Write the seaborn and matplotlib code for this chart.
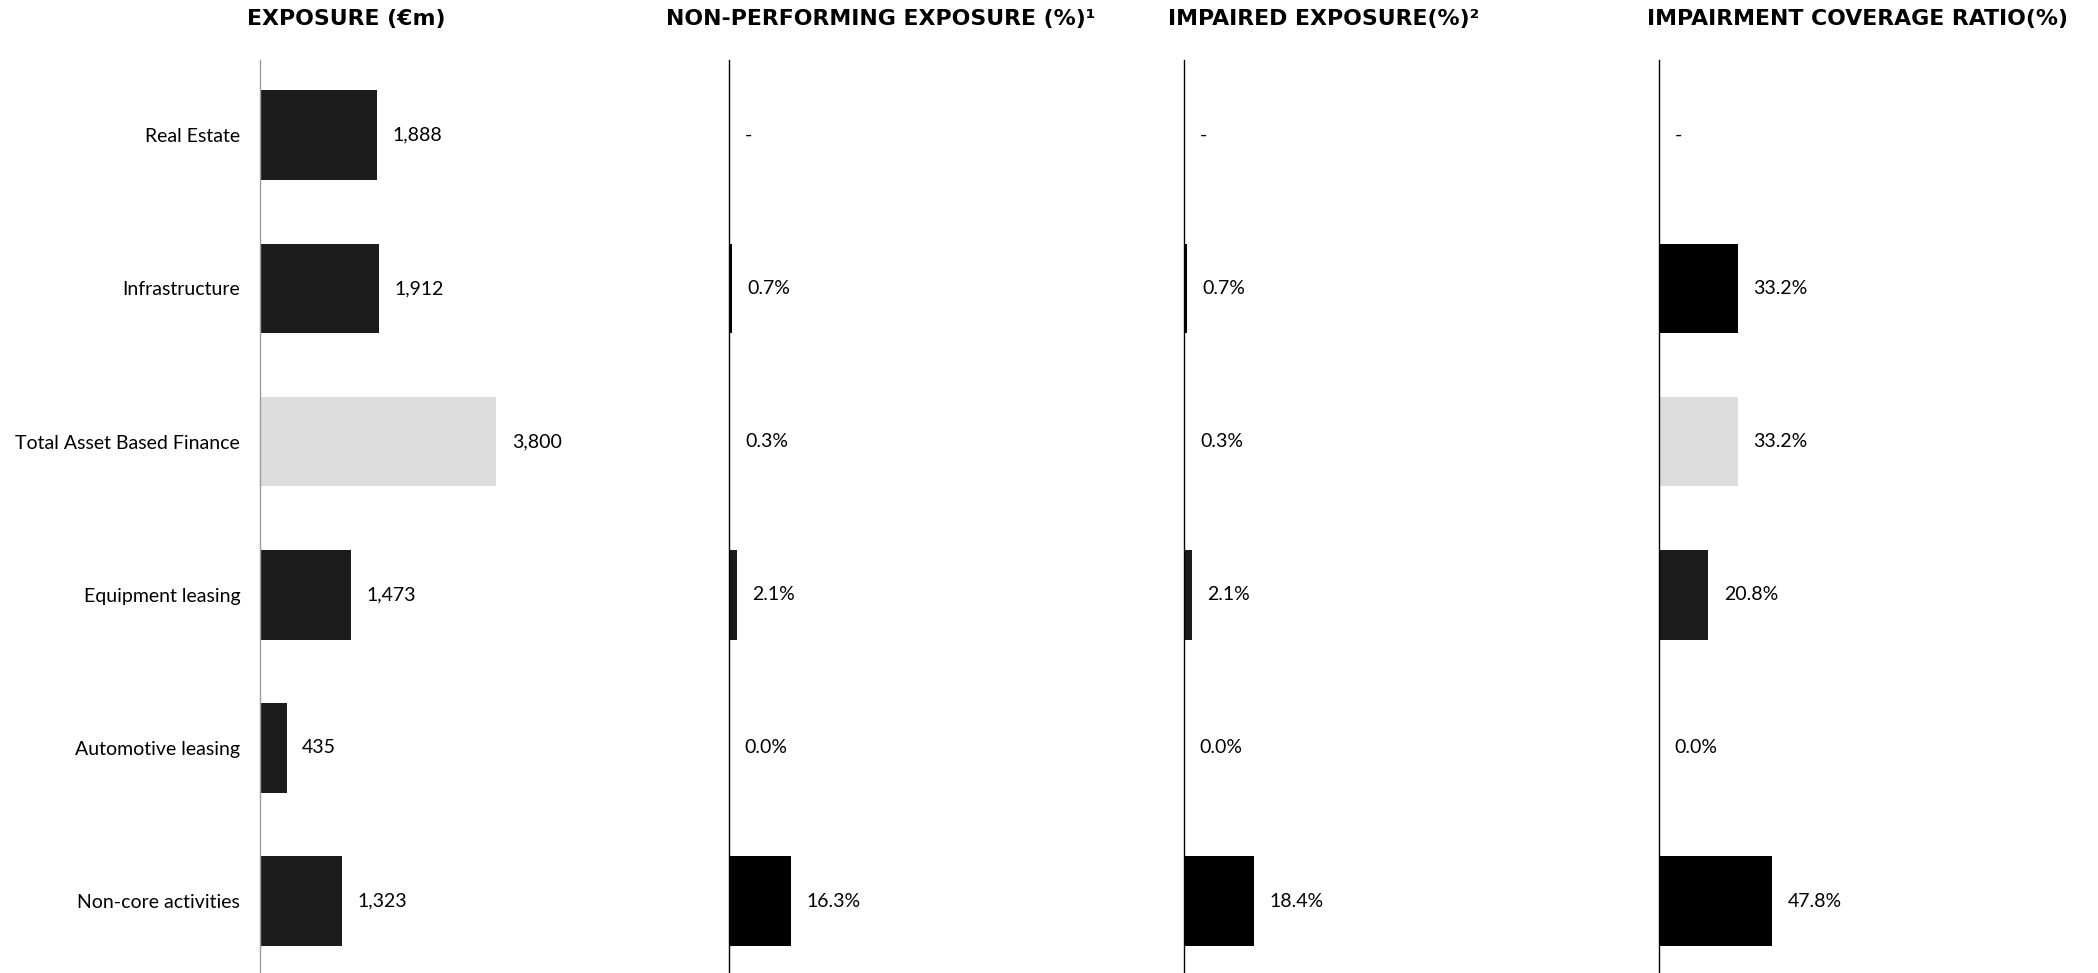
import numpy as np
import pandas as pd
import matplotlib
matplotlib.use("Agg")
import matplotlib.pyplot as plt
import seaborn as sns

categories = ["Real Estate", "Infrastructure", "Total Asset Based Finance",
              "Equipment leasing", "Automotive leasing", "Non-core activities"]
exposure = [1888, 1912, 3800, 1473, 435, 1323]
npe_pct = [np.nan, 0.7, 0.3, 2.1, 0.0, 16.3]
impaired_pct = [np.nan, 0.7, 0.3, 2.1, 0.0, 18.4]
coverage_pct = [np.nan, 33.2, 33.2, 20.8, 0.0, 47.8]
titles = ["EXPOSURE (€m)", "NON-PERFORMING EXPOSURE (%)¹",
          "IMPAIRED EXPOSURE(%)²", "IMPAIRMENT COVERAGE RATIO(%)"]

sns.set_theme(style="white")
plt.rcParams['font.family'] = ['Lato', 'DejaVu Sans']

DARK = "#1c1c1c"
BLACK = "#000000"
LIGHT = "#dcdcdc"
pal_exp = [DARK, DARK, LIGHT, DARK, DARK, DARK]
pal_pct = [BLACK, BLACK, LIGHT, DARK, DARK, BLACK]

fig = plt.figure(figsize=(20.98, 9.73), dpi=100)

W = 1568.0
H = 727.0
panels = [
    dict(vals=exposure, left=194, xmax=300 / 0.04658, pal=pal_exp, fmt=lambda v: f"{v:,.0f}",
         spine="#9a9a9a", tx=259),
    dict(vals=npe_pct, left=545, xmax=300 / 2.85, pal=pal_pct, fmt=lambda v: f"{v:.1f}%",
         spine="#000000", tx=658),
    dict(vals=impaired_pct, left=885, xmax=300 / 2.85, pal=pal_pct, fmt=lambda v: f"{v:.1f}%",
         spine="#000000", tx=989),
    dict(vals=coverage_pct, left=1240, xmax=300 / 1.77, pal=pal_pct, fmt=lambda v: f"{v:.1f}%",
         spine="#000000", tx=1388),
]

top_frac = 1 - 45 / H
for k, p in enumerate(panels):
    ax = fig.add_axes([p["left"] / W, 0.0, 300 / W, top_frac])
    df = pd.DataFrame({"cat": categories, "val": [0 if np.isnan(v) else v for v in p["vals"]]})
    palette = dict(zip(categories, p["pal"]))
    sns.barplot(data=df, x="val", y="cat", hue="cat", palette=palette, order=categories,
                hue_order=categories, legend=False, orient="h", width=0.585,
                saturation=1, linewidth=0, ax=ax)
    ax.set_xlim(0, p["xmax"])
    ax.set_ylim(5.47, -0.49)
    ax.set_xlabel("")
    ax.set_ylabel("")
    ax.set_xticks([])
    for s in ["top", "right", "bottom"]:
        ax.spines[s].set_visible(False)
    ax.spines["left"].set_color(p["spine"])
    ax.spines["left"].set_linewidth(1.0)
    ax.tick_params(axis="y", length=0, pad=14)
    if k == 0:
        ax.set_yticks(range(len(categories)))
        ax.set_yticklabels(categories, fontsize=14, color="#000000")
    else:
        ax.set_yticks([])
    for i, v in enumerate(p["vals"]):
        if np.isnan(v):
            txt, xv = "-", 0
        else:
            txt, xv = p["fmt"](v), v
        ax.annotate(txt, xy=(xv, i), xytext=(11, 0), textcoords="offset points",
                    ha="left", va="center", fontsize=14, color="#000000")
    fig.text(p["tx"] / W, 1 - 14 / H, titles[k], ha="center", va="center",
             fontsize=15.8, fontweight="bold", family="DejaVu Sans", color="#000000")

fig.savefig("out.png", dpi=100, facecolor="white")
